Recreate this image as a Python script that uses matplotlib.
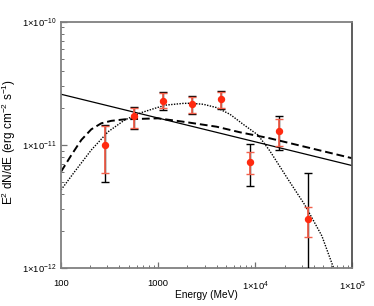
import numpy as np
import matplotlib
matplotlib.use("Agg")
import matplotlib.pyplot as plt
from matplotlib.ticker import FixedLocator, NullFormatter, LogLocator

plt.rcParams['font.family'] = ['Liberation Sans', 'DejaVu Sans']
plt.rcParams['mathtext.fontset'] = 'custom'
plt.rcParams['mathtext.rm'] = 'Liberation Sans'
plt.rcParams['mathtext.it'] = 'Liberation Sans:italic'
plt.rcParams['mathtext.bf'] = 'Liberation Sans:bold'

# Data points (MeV, erg cm^-2 s^-1)
energy = [283, 560, 1120, 2245, 4430, 8790, 17500, 34800]
flux = [1.0e-11, 1.71e-11, 2.29e-11, 2.15e-11, 2.35e-11, 7.32e-12, 1.30e-11, 2.50e-12]
stat_hi = [1.43e-11, 1.985e-11, 2.63e-11, 2.46e-11, 2.70e-11, 8.83e-12, 1.626e-11, 3.16e-12]
stat_lo = [5.96e-12, 1.366e-11, 1.98e-11, 1.81e-11, 1.98e-11, 5.82e-12, 9.87e-12, 1.80e-12]
tot_hi = [1.45e-11, 2.045e-11, 2.68e-11, 2.48e-11, 2.76e-11, 1.013e-11, 1.73e-11, 5.89e-12]
tot_lo = [5.04e-12, 1.34e-11, 1.92e-11, 1.78e-11, 1.96e-11, 4.65e-12, 9.1e-12, 1.0e-13]

# Model curves
pl_e = [100, 1e5]
pl_f = [2.58e-11, 6.8e-12]

dash_e = [100, 128, 162, 205, 260, 329, 452, 670, 995, 1810, 4000, 6950, 14100, 1e5]
dash_f = [6.07e-12, 8.30e-12, 1.10e-11, 1.34e-11, 1.50e-11, 1.57e-11, 1.615e-11,
          1.63e-11, 1.645e-11, 1.545e-11, 1.407e-11, 1.268e-11, 1.133e-11, 7.8e-12]

dot_e = [100, 138, 205, 305, 452, 670, 995, 1220, 1810, 2125, 2910, 4000, 5480,
         7510, 10650, 14130, 21600, 32360, 48400, 63200, 68000]
dot_f = [4.32e-12, 6.07e-12, 9.11e-12, 1.28e-11, 1.595e-11, 1.83e-11, 2.02e-11,
         2.11e-11, 2.175e-11, 2.18e-11, 2.14e-11, 2.01e-11, 1.775e-11, 1.47e-11,
         1.205e-11, 8.94e-12, 5.30e-12, 3.26e-12, 1.83e-12, 1.03e-12, 0.9e-12]

fig = plt.figure(figsize=(3.74, 3.06), dpi=100)
ax = fig.add_axes([0.1631, 0.1232, 0.7794, 0.8059])

ax.plot(pl_e, pl_f, color='black', lw=0.9)
ax.plot(dash_e, dash_f, color='black', lw=1.4, ls=(0, (4, 2)))
ax.plot(dot_e, dot_f, color='black', lw=1.0, ls=(0, (1, 1)))

e = np.array(energy)
f = np.array(flux)
ax.errorbar(e, f, yerr=[f - np.array(tot_lo), np.array(tot_hi) - f], fmt='none',
            ecolor='black', elinewidth=1.0, capsize=3, capthick=1.0, zorder=3)
ax.errorbar(e, f, yerr=[f - np.array(stat_lo), np.array(stat_hi) - f], fmt='o',
            color='#ff2a10', ms=4.3, ecolor='#f0604c', elinewidth=1.3, capsize=3,
            capthick=1.0, zorder=4)

ax.set_xscale('log')
ax.set_yscale('log')
ax.set_xlim(100, 1e5)
ax.set_ylim(1e-12, 1e-10)

ax.xaxis.set_major_locator(FixedLocator([100, 1000, 1e4, 1e5]))
ax.set_xticklabels(['100', '1000', r'$1{\times}10^{4}$', r'$1{\times}10^{5}$'])
ax.yaxis.set_major_locator(FixedLocator([1e-12, 1e-11, 1e-10]))
ax.set_yticklabels([r'$1{\times}10^{-12}$', r'$1{\times}10^{-11}$', r'$1{\times}10^{-10}$'])
ax.xaxis.set_minor_locator(LogLocator(base=10, subs=np.arange(2, 10)))
ax.yaxis.set_minor_locator(LogLocator(base=10, subs=np.arange(2, 10)))
ax.xaxis.set_minor_formatter(NullFormatter())
ax.yaxis.set_minor_formatter(NullFormatter())

ax.tick_params(which='both', direction='in', colors='#707070', labelcolor='black',
               labelsize=6.8, top=False, right=False)
ax.tick_params(which='major', length=4, width=0.9)
ax.tick_params(which='minor', length=2, width=0.7)
ax.tick_params(axis='x', pad=8)
ax.tick_params(axis='y', pad=3)

for s in ['left', 'bottom', 'top']:
    ax.spines[s].set_color('#808080')
    ax.spines[s].set_linewidth(1.3)
ax.spines['right'].set_color('#505050')
ax.spines['right'].set_linewidth(1.3)

ax.set_xlabel('Energy (MeV)', fontsize=7.3)
ax.xaxis.set_label_coords(0.5, -0.09)
ax.set_ylabel(r'E$^2$ dN/dE (erg cm$^{-2}$ s$^{-1}$)', fontsize=8.5)
ax.yaxis.set_label_coords(-0.146, 0.51)

fig.savefig('out.png', dpi=100)
